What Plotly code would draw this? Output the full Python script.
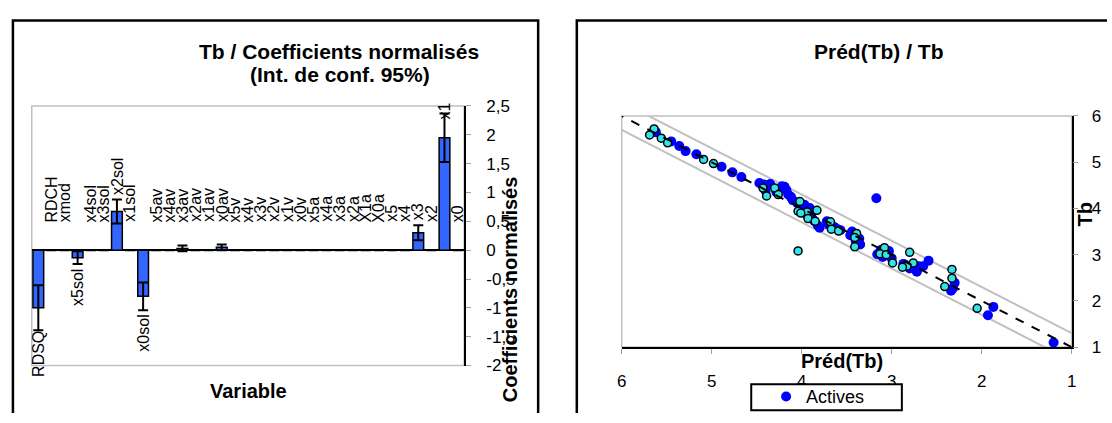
import plotly.graph_objects as go

# ---------------- data: left panel (normalised coefficients) ----------------
categories = ["RDSQ", "RDCH", "xmod", "x5sol", "x4sol", "x3sol", "x2sol", "x1sol", "x0sol",
              "x5av", "x4av", "x3av", "x2av", "x1av", "x0av",
              "x5v", "x4v", "x3v", "x2v", "x1v", "x0v",
              "x5a", "x4a", "x3a", "x2a", "X1a", "X0a",
              "x5", "x4", "x3", "x2", "x1", "x0"]
coefficients = [-1.00, 0, 0, -0.13, 0, 0, 0.67, 0, -0.80,
                0, 0, 0.03, 0, 0, 0.05,
                0, 0, 0, 0, 0, 0,
                0, 0, 0, 0, 0, 0,
                0, 0, 0.30, 0, 1.95, 0]
conf95 = [0.39, 0, 0, 0.11, 0, 0, 0.21, 0, 0.24,
          0, 0, 0.05, 0, 0, 0.05,
          0, 0, 0, 0, 0, 0,
          0, 0, 0, 0, 0, 0,
          0, 0, 0.13, 0, 0.42, 0]
coef_tickvals = [-2, -1.5, -1, -0.5, 0, 0.5, 1, 1.5, 2, 2.5]
coef_ticktext = ["-2", "-1,5", "-1", "-0,5", "0", "0,5", "1", "1,5", "2", "2,5"]

# ---------------- data: right panel (Préd(Tb) vs Tb) ----------------
pred_actives = [5.36, 5.29, 5.17, 4.89, 4.77, 4.67, 4.47, 4.42, 4.35, 4.22, 4.19, 4.17, 4.15,
                4.12, 4.10, 4.05, 3.99, 3.97, 3.91, 3.90, 3.88, 3.86, 3.82, 3.80, 3.72, 3.64,
                3.60, 3.57, 3.46, 3.44, 3.40, 3.35, 3.36, 3.17, 3.16, 3.12, 3.10, 3.03, 3.00,
                2.87, 2.80, 2.72, 2.72, 2.70, 2.59, 2.65, 2.34, 2.30, 2.32, 1.93, 1.87, 1.20,
                5.62, 5.45, 4.40, 4.28, 4.00, 3.95, 3.70, 3.42, 3.08, 2.85]
tb_actives = [5.35, 5.24, 5.17, 4.90, 4.78, 4.68, 4.55, 4.52, 4.53, 4.48, 4.47, 4.40, 4.30,
              4.25, 4.18, 4.12, 4.05, 4.08, 4.01, 3.85, 3.77, 3.73, 3.63, 3.58, 3.72, 3.60,
              3.55, 3.53, 3.42, 3.50, 3.30, 3.22, 3.35, 4.22, 3.01, 3.10, 2.95, 3.08, 2.92,
              2.80, 2.70, 2.67, 2.63, 2.75, 2.87, 2.75, 2.22, 2.39, 2.27, 1.69, 1.87, 1.10,
              5.65, 5.45, 4.38, 4.35, 4.00, 3.88, 3.65, 3.40, 3.05, 2.78]
pred_other = [5.64, 5.69, 5.56, 5.49, 5.09, 4.98, 4.43, 4.39, 4.30, 4.26, 4.02, 4.04, 3.94,
              4.01, 3.93, 3.85, 3.83, 3.68, 3.67, 3.59, 3.39, 3.41, 3.41, 3.08, 3.13, 3.06,
              2.99, 2.80, 2.76, 2.83, 2.88, 2.33, 2.33, 2.41, 2.05, 4.04]
tb_other = [5.72, 5.59, 5.52, 5.42, 5.06, 4.97, 4.44, 4.27, 4.44, 4.30, 4.15, 3.94, 3.92,
            3.90, 3.78, 3.72, 3.96, 3.71, 3.55, 3.51, 3.46, 3.37, 3.17, 3.15, 3.02, 3.00,
            2.82, 3.05, 2.82, 2.75, 2.73, 2.68, 2.49, 2.31, 1.84, 3.08]
diag = [1, 6]
band = 0.3
scatter_ticks = [1, 2, 3, 4, 5, 6]

FONT = "Liberation Sans, Arial, sans-serif"
W, H = 1112, 423


def px(x):
    return x / W


def py(y):
    return 1 - y / H


fig = go.Figure()

# ---- left: bars with 95% confidence interval ----
fig.add_trace(go.Bar(
    x=list(range(len(categories))), y=coefficients,
    marker=dict(color="#3366FF", line=dict(color="black", width=1.5)),
    error_y=dict(type="data", array=conf95, visible=True, color="black", thickness=2, width=5),
    xaxis="x", yaxis="y", showlegend=False, name="Coefficients",
))

# ---- right: scatter ----
fig.add_trace(go.Scatter(
    x=diag, y=[d + band for d in diag], mode="lines",
    line=dict(color="#C0C0C0", width=2), xaxis="x2", yaxis="y2", showlegend=False, hoverinfo="skip"))
fig.add_trace(go.Scatter(
    x=diag, y=[d - band for d in diag], mode="lines",
    line=dict(color="#C0C0C0", width=2), xaxis="x2", yaxis="y2", showlegend=False, hoverinfo="skip"))
fig.add_trace(go.Scatter(
    x=pred_actives, y=tb_actives, mode="markers", name="Actives",
    marker=dict(color="#0000FF", size=10, line=dict(width=0)),
    xaxis="x2", yaxis="y2", showlegend=True))
fig.add_trace(go.Scatter(
    x=pred_other, y=tb_other, mode="markers", name="Autres",
    marker=dict(color="#30E4EA", size=8, line=dict(color="black", width=1.5)),
    xaxis="x2", yaxis="y2", showlegend=False))
fig.add_trace(go.Scatter(
    x=diag, y=diag, mode="lines",
    line=dict(color="black", width=2, dash="dash"), xaxis="x2", yaxis="y2",
    showlegend=False, hoverinfo="skip"))

annotations = []
# category labels beside bars (outside end)
for i, (name, v, e) in enumerate(zip(categories, coefficients, conf95)):
    if v >= 0:
        yv = min(max(v + e, 0.40) + 0.05, 2.5 - 0.27)
        anchor = "bottom"
    else:
        yv = v - e - 0.05
        length = 0.19 * len(name)
        if yv - length < -2.12:
            yv = -2.12 + length
        anchor = "top"
    annotations.append(dict(x=i, y=yv, xref="x", yref="y", text=name, textangle=-90,
                            showarrow=False, xanchor="center", yanchor=anchor,
                            font=dict(family=FONT, size=16, color="black")))


def txt(text, x, y, size, bold=True, angle=0, xanchor="center", yanchor="middle"):
    t = "<b>" + text + "</b>" if bold else text
    annotations.append(dict(x=px(x), y=py(y), xref="paper", yref="paper", text=t,
                            textangle=angle, showarrow=False, xanchor=xanchor, yanchor=yanchor,
                            font=dict(family=FONT, size=size, color="black")))


txt("Tb / Coefficients normalisés", 337, 44, 21)
txt("(Int. de conf. 95%)", 338, 69, 21)
txt("Variable", 246, 400, 20)
txt("Coefficients normalisés", 509, 293, 20, angle=-90)
txt("Préd(Tb) / Tb", 882, 44, 21)
txt("Préd(Tb)", 845, 369, 20)
txt("Tb", 1090, 215, 20, angle=-90)


def P(x, y):
    return "%.5f,%.5f" % (px(x), py(y))


shapes = [
    # chart frames (their bottom / right edges lie outside the picture)
    dict(type="path", xref="paper", yref="paper",
         path="M " + P(8, 423) + " L " + P(8, 12) + " L " + P(538, 12) + " L " + P(538, 423),
         line=dict(color="black", width=2.5), layer="below"),
    dict(type="path", xref="paper", yref="paper",
         path="M " + P(577, 423) + " L " + P(577, 12) + " L " + P(1112, 12),
         line=dict(color="black", width=2.5), layer="below"),
    # plot-area borders (grey)
    dict(type="rect", xref="paper", yref="paper", x0=px(27), x1=px(463.3), y0=py(373.3), y1=py(101.5),
         line=dict(color="#C0C0C0", width=1.5), fillcolor="rgba(0,0,0,0)", layer="below"),
    dict(type="rect", xref="paper", yref="paper", x0=px(622.3), x1=px(1076.3), y0=py(354), y1=py(112),
         line=dict(color="#C0C0C0", width=1.5), fillcolor="rgba(0,0,0,0)", layer="below"),
    # legend box
    dict(type="rect", xref="paper", yref="paper", x0=px(753), x1=px(905), y0=py(420), y1=py(393),
         line=dict(color="black", width=2), fillcolor="white", layer="above"),
]

tickfont = dict(family=FONT, size=17, color="black")

fig.update_layout(
    width=W, height=H,
    margin=dict(l=0, r=0, t=0, b=0),
    paper_bgcolor="white", plot_bgcolor="rgba(0,0,0,0)",
    bargap=0.18,
    font=dict(family=FONT, color="black"),
    xaxis=dict(domain=[px(27), px(463.3)], range=[-0.5, len(categories) - 0.5],
               showticklabels=False, ticks="", showline=False, showgrid=False, zeroline=False,
               anchor="y"),
    yaxis=dict(domain=[py(373.3), py(101.5)], range=[-2, 2.5], side="right", anchor="x",
               tickvals=coef_tickvals, ticktext=coef_ticktext, tickfont=tickfont,
               ticks="outside", ticklen=5, tickcolor="#A0A0A0", ticklabelstandoff=12,
               showline=True, linecolor="black", linewidth=1.5, mirror=False,
               showgrid=False, zeroline=True, zerolinecolor="black", zerolinewidth=1.5),
    xaxis2=dict(domain=[px(622.3), px(1076.3)], range=[6, 1], anchor="y2", side="bottom",
                tickvals=scatter_ticks, tickfont=tickfont,
                ticks="outside", ticklen=5, tickcolor="#A0A0A0", ticklabelstandoff=13,
                showline=True, linecolor="black", linewidth=1.5,
                showgrid=False, zeroline=False),
    yaxis2=dict(domain=[py(354), py(112)], range=[1, 6], anchor="x2", side="right",
                tickvals=scatter_ticks, tickfont=tickfont,
                ticks="outside", ticklen=5, tickcolor="#A0A0A0", ticklabelstandoff=10,
                showline=True, linecolor="black", linewidth=1.5,
                showgrid=False, zeroline=False),
    legend=dict(x=px(768), y=py(406), xanchor="left", yanchor="middle",
                bgcolor="rgba(0,0,0,0)", borderwidth=0,
                font=dict(family=FONT, size=18, color="black"),
                itemwidth=30, tracegroupgap=0),
    annotations=annotations,
    shapes=shapes,
)

fig.write_html("out.html", config={"displayModeBar": False},
               post_script="document.documentElement.style.margin='0';"
                           "document.body.style.margin='0';"
                           "document.documentElement.style.overflow='hidden';"
                           "document.body.style.overflow='hidden';")
